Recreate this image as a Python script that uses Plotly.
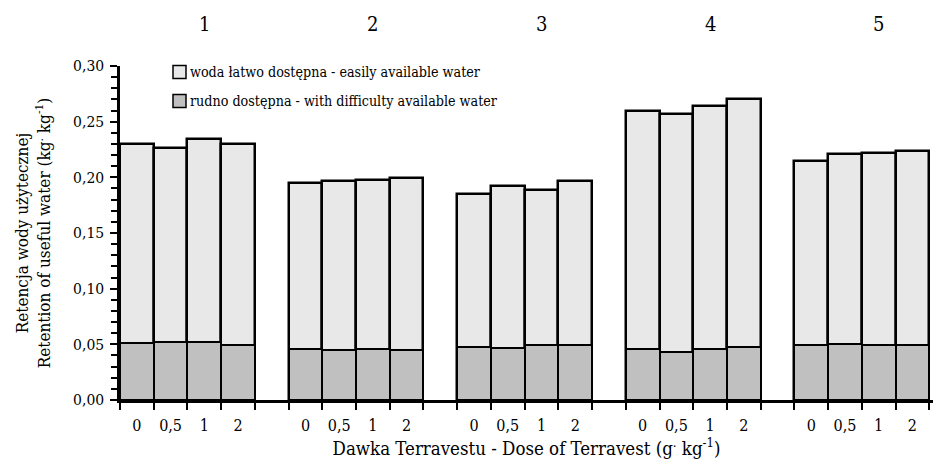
import plotly.graph_objects as go

# Soil groups and Terravest doses
groups = ["1", "2", "3", "4", "5"]
doses = ["0", "0,5", "1", "2"]

# Total useful water retention (kg·kg-1) per group, dose order 0, 0.5, 1, 2
total_retention = [
    [0.230, 0.226, 0.234, 0.230],
    [0.195, 0.197, 0.198, 0.199],
    [0.185, 0.192, 0.189, 0.197],
    [0.260, 0.257, 0.264, 0.270],
    [0.215, 0.221, 0.222, 0.224],
]
# Water available with difficulty (kg·kg-1)
difficult_water = [
    [0.051, 0.052, 0.052, 0.049],
    [0.046, 0.045, 0.046, 0.045],
    [0.048, 0.047, 0.049, 0.049],
    [0.046, 0.043, 0.046, 0.048],
    [0.049, 0.050, 0.049, 0.049],
]

legend_easy = "woda łatwo dostępna - easily available water"
legend_hard = "rudno dostępna - with difficulty available water"

FONT = "DejaVu Serif Condensed"
LIGHT = "#e8e8e8"
DARK = "#c0c0c0"

W, H = 933, 464
ML, MR, MT, MB = 120, 0, 66, 64
PW, PH = W - ML - MR, H - MT - MB
SLOTS_PER_GROUP = 5  # four bars plus one empty slot

xs, tot, dif, labels = [], [], [], []
for g, grp in enumerate(groups):
    for j, d in enumerate(doses):
        xs.append(g * SLOTS_PER_GROUP + j + 0.5)
        tot.append(total_retention[g][j])
        dif.append(difficult_water[g][j])
        labels.append(d)

fig = go.Figure()
fig.add_trace(go.Bar(
    x=xs, y=tot, width=1.0, name=legend_easy,
    marker=dict(color=LIGHT, line=dict(color="black", width=2.5)),
    showlegend=False,
))
fig.add_trace(go.Bar(
    x=xs, y=dif, width=1.0, name=legend_hard,
    marker=dict(color=DARK, line=dict(color="black", width=2)),
    showlegend=False,
))


def px_x(p):
    return (p - ML) / PW


def px_y(p):
    return (H - MB - p) / PH


shapes = []
annotations = []
# legend swatches and texts
for row_y, color, text in [(72, LIGHT, legend_easy), (101, DARK, legend_hard)]:
    shapes.append(dict(
        type="rect", xref="paper", yref="paper",
        x0=px_x(173), x1=px_x(186), y0=px_y(row_y + 6.5), y1=px_y(row_y - 6.5),
        fillcolor=color, line=dict(color="black", width=1.5),
    ))
    annotations.append(dict(
        x=px_x(188), y=px_y(row_y), xref="paper", yref="paper",
        text=text, showarrow=False, xanchor="left", yanchor="middle",
        font=dict(family=FONT, size=14.2, color="black"),
    ))

# group numbers above the bars
for g, grp in enumerate(groups):
    annotations.append(dict(
        x=g * SLOTS_PER_GROUP + 2.5, y=px_y(24), xref="x", yref="paper",
        text=grp, showarrow=False, xanchor="center", yanchor="middle",
        font=dict(family=FONT, size=20, color="black"),
    ))

fig.update_layout(
    width=W, height=H,
    margin=dict(l=ML, r=MR, t=MT, b=MB),
    paper_bgcolor="white", plot_bgcolor="white",
    barmode="overlay", bargap=0,
    separators=", ",
    font=dict(family=FONT, size=16, color="black"),
    shapes=shapes, annotations=annotations,
    xaxis=dict(
        range=[0, PW / 33.72],
        tickmode="array", tickvals=xs, ticktext=labels,
        ticks="outside", ticklen=9, tickcolor="rgba(0,0,0,0)",
        showline=True, linecolor="black", linewidth=2.5,
        showgrid=False, zeroline=False,
        minor=dict(tickmode="array", tickvals=list(range(25)),
                   ticks="outside", ticklen=7, tickwidth=2, tickcolor="black",
                   showgrid=False),
        tickfont=dict(family=FONT, size=16),
        title=dict(text="Dawka Terravestu - Dose of Terravest (g<sup>.</sup> kg<sup>-1</sup>)",
                   font=dict(family=FONT, size=18.5), standoff=4),
    ),
    yaxis=dict(
        range=[0, 0.30],
        tickmode="linear", tick0=0, dtick=0.05, tickformat=".2f",
        ticks="outside", ticklen=7, tickwidth=2, tickcolor="black",
        ticklabelstandoff=3,
        minor=dict(dtick=0.01, ticks="outside", ticklen=6, tickwidth=2,
                   tickcolor="black", showgrid=False),
        showline=True, linecolor="black", linewidth=2.5,
        showgrid=False, zeroline=False,
        tickfont=dict(family=FONT, size=15.5),
        title=dict(text="Retencja wody użytecznej<br>Retention of useful water (kg<sup>.</sup> kg<sup>-1</sup>)",
                   font=dict(family=FONT, size=17), standoff=19),
    ),
)

fig.write_html("out.html")
